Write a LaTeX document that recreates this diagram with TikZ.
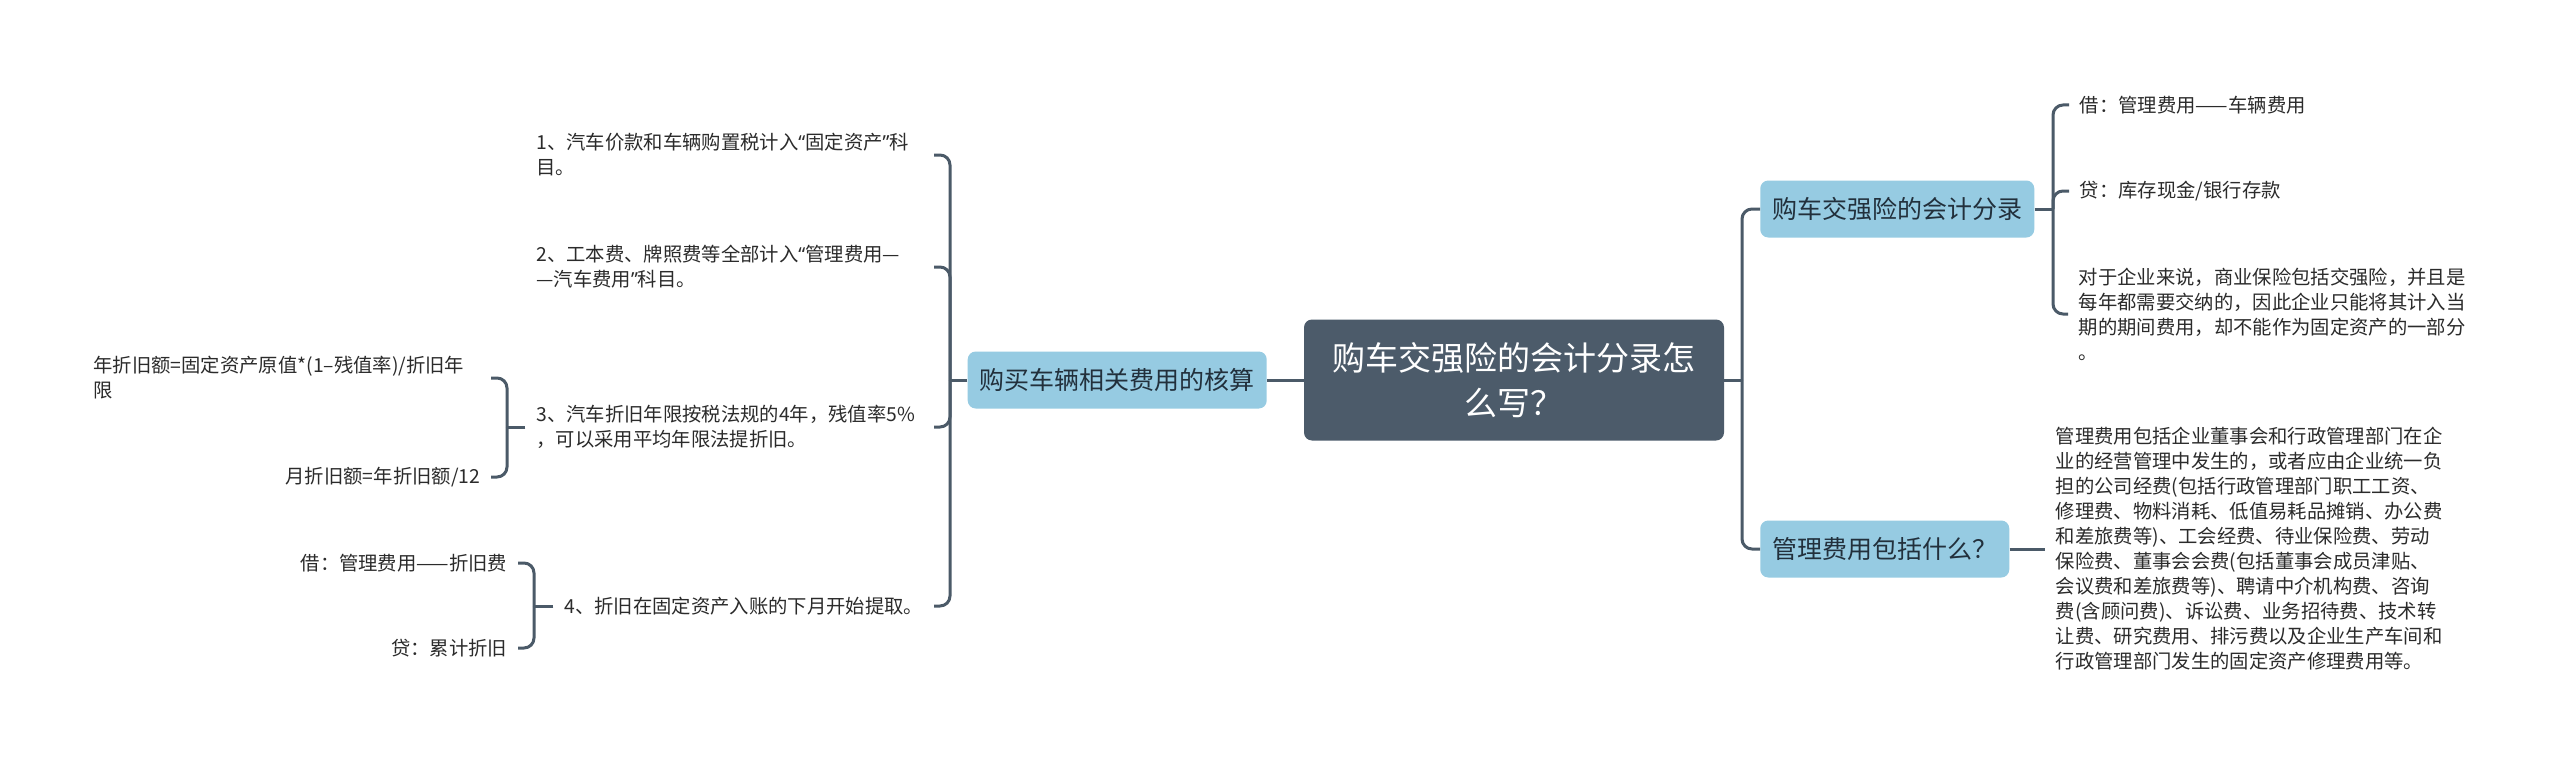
\documentclass[tikz,border=0pt]{standalone}
\usepackage{fontspec}
\setmainfont{Noto Sans CJK SC}
\newfontfamily\latinq{Noto Sans}
\newcommand\myLQ{{\latinq “}}
\newcommand\myRQ{{\latinq ”}}
\definecolor{lineC}{HTML}{4B5A68}
\definecolor{rootC}{HTML}{4C5B6A}
\definecolor{blueC}{HTML}{96CBE2}
\definecolor{txtC}{HTML}{2B2B2B}
\definecolor{mainTxt}{HTML}{22303C}
\tikzset{
  conn/.style={draw=lineC, line width=2.25pt, rounded corners=7.5pt},
  rootbox/.style={fill=rootC, rounded corners=6pt, text=white, minimum width=315pt, minimum height=90.75pt, align=center, font=\fontsize{24.75pt}{33.75pt}\selectfont},
  topic/.style={fill=blueC, rounded corners=6pt, text=mainTxt, inner xsep=9pt, minimum height=42.75pt, font=\fontsize{18.75pt}{22pt}\selectfont},
  leaf/.style={text=txtC, inner xsep=8pt, inner ysep=2pt, font=\fontsize{14.5pt}{18.75pt}\selectfont},
  para/.style={leaf, text width=290pt, align=left},
}
\begin{document}
\begin{tikzpicture}[x=0.75pt,y=-0.75pt]
\useasboundingbox (0,0) rectangle (2560,767);
\fill[white] (0,0) rectangle (2560,767);

% main nodes
\node[rootbox] (root) at (1514,380) {购车交强险的会计分录怎\\么写？};
\node[topic, anchor=east] (L) at (1267,380) {购买车辆相关费用的核算};
\node[topic, anchor=west] (R1) at (1760,209) {购车交强险的会计分录};
\node[topic, anchor=west] (R2) at (1760,549) {管理费用包括什么？};

% junctions
\coordinate (jL) at (950,380);
\coordinate (jR) at (1742,380);
\coordinate (jR1) at (2053,209);
\coordinate (jC3) at (507,427);
\coordinate (jC4) at (534,606);

% left children
\node[para, anchor=east] (c1) at (934,155) {1、汽车价款和车辆购置税计入\myLQ 固定资产\myRQ 科\\目。};
\node[para, anchor=east] (c2) at (934,267) {2、工本费、牌照费等全部计入\myLQ 管理费用—\\—汽车费用\myRQ 科目。};
\node[para, anchor=east] (c3) at (934,427) {3、汽车折旧年限按税法规的4年，残值率5\%\\，可以采用平均年限法提折旧。};
\node[leaf, anchor=east] (c4) at (934,606) {4、折旧在固定资产入账的下月开始提取。};

% grandchildren
\node[para, anchor=east] (g1) at (491,378) {年折旧额=固定资产原值*(1–残值率)/折旧年\\限};
\node[leaf, anchor=east] (g2) at (491,477) {月折旧额=年折旧额/12};
\node[leaf, anchor=east] (g3) at (518,563) {借：管理费用——折旧费};
\node[leaf, anchor=east] (g4) at (518,648) {贷：累计折旧};

% right children
\node[leaf, anchor=west] (r1a) at (2069,105) {借：管理费用——车辆费用};
\node[leaf, anchor=west] (r1b) at (2069,191) {贷：库存现金/银行存款};
\node[para, anchor=west] (r1c) at (2068,314) {对于企业来说，商业保险包括交强险，并且是\\每年都需要交纳的，因此企业只能将其计入当\\期的期间费用，却不能作为固定资产的一部分\\。};
\node[para, anchor=west] (r2a) at (2045,549) {管理费用包括企业董事会和行政管理部门在企\\业的经营管理中发生的，或者应由企业统一负\\担的公司经费(包括行政管理部门职工工资、\\修理费、物料消耗、低值易耗品摊销、办公费\\和差旅费等)、工会经费、待业保险费、劳动\\保险费、董事会会费(包括董事会成员津贴、\\会议费和差旅费等)、聘请中介机构费、咨询\\费(含顾问费)、诉讼费、业务招待费、技术转\\让费、研究费用、排污费以及企业生产车间和\\行政管理部门发生的固定资产修理费用等。};

% connectors
\draw[conn] (root.west) -- (L.east);
\draw[conn] (root.east) -- (jR);
\draw[conn] (jR) |- (R1.west);
\draw[conn] (jR) |- (R2.west);

\draw[conn] (L.west) -- (jL);
\draw[conn] (jL) |- (c1.east);
\draw[conn] (jL) |- (c2.east);
\draw[conn] (jL) |- (c3.east);
\draw[conn] (jL) |- (c4.east);

\draw[conn] (c3.west) -- (jC3);
\draw[conn] (jC3) |- (g1.east);
\draw[conn] (jC3) |- (g2.east);
\draw[conn] (c4.west) -- (jC4);
\draw[conn] (jC4) |- (g3.east);
\draw[conn] (jC4) |- (g4.east);

\draw[conn] (R1.east) -- (jR1);
\draw[conn] (jR1) |- (r1a.west);
\draw[conn] (jR1) |- (r1b.west);
\draw[conn] (jR1) |- (r1c.west);

\draw[conn] (R2.east) -- (r2a.west);
\end{tikzpicture}
\end{document}
